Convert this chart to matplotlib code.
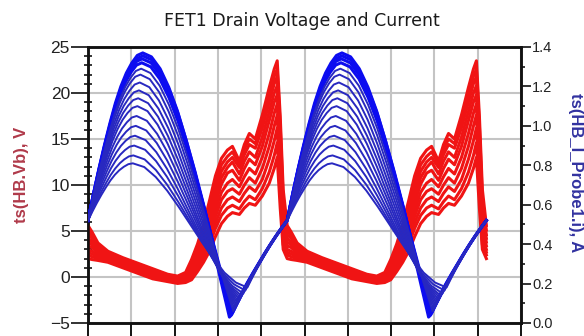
import numpy as np
import matplotlib
matplotlib.use("Agg")
import matplotlib.pyplot as plt
from matplotlib.ticker import MultipleLocator

plt.rcParams['font.family'] = ['Liberation Sans', 'DejaVu Sans']

# ---- time base -------------------------------------------------------------
period = 4.6            # one RF cycle, in x-axis units
n_cycles = 2

# ---- drain voltage traces (V), sampled over one cycle -----------------------
v_phase = [0, .02, .05, .10, .175, .25, .325, .40, .45, .49, .52, .55, .58, .61,
           .64, .67, .70, .725, .76, .785, .81, .84, .875, .91, .935, .95, .965,
           .98, 1.0]
v_trace_1 = [5.6, 4.9, 3.7, 2.8, 2.1, 1.5, 0.9, 0.3, 0.1, 0.5, 1.9, 3.6, 5.7, 8.3,
             11.0, 12.9, 13.8, 14.2, 12.6, 14.4, 15.6, 15.0, 17.6, 20.6, 22.6,
             23.5, 17.5, 9.5, 5.6]
v_trace_2 = [5.1, 4.5, 3.4, 2.6, 2.0, 1.4, 0.8, 0.2, 0.0, 0.3, 1.6, 3.2, 5.1, 7.6,
             10.2, 12.2, 13.1, 13.6, 12.3, 13.9, 15.0, 14.5, 16.9, 19.8, 21.8,
             22.6, 16.5, 8.5, 5.1]
v_trace_3 = [4.6, 4.2, 3.2, 2.5, 1.8, 1.2, 0.6, 0.0, -0.1, 0.1, 1.2, 2.7, 4.5, 6.9,
             9.5, 11.5, 12.5, 13.0, 11.9, 13.3, 14.4, 14.0, 16.2, 19.0, 21.0,
             21.8, 15.5, 7.5, 4.6]
v_trace_4 = [4.2, 3.8, 3.0, 2.4, 1.7, 1.1, 0.5, -0.1, -0.2, 0.0, 1.0, 2.3, 4.0,
             6.2, 8.7, 10.8, 11.9, 12.5, 11.2, 12.6, 13.6, 13.0, 15.2, 18.0, 20.0,
             20.8, 14.5, 6.8, 4.2]
v_trace_5 = [3.8, 3.5, 2.8, 2.2, 1.6, 1.0, 0.4, -0.2, -0.4, -0.2, 0.8, 2.0, 3.6,
             5.6, 8.0, 10.1, 11.3, 11.6, 10.5, 11.8, 12.8, 12.2, 14.2, 17.0,
             19.0, 19.8, 13.5, 6.0, 3.8]
v_trace_6 = [3.4, 3.2, 2.6, 2.1, 1.5, 0.9, 0.3, -0.2, -0.4, -0.3, 0.6, 1.7, 3.2,
             5.0, 7.3, 9.2, 10.2, 10.6, 9.8, 10.9, 11.8, 11.2, 13.0, 15.6, 17.8,
             18.8, 12.5, 5.2, 3.4]
v_trace_7 = [3.0, 2.8, 2.4, 2.0, 1.4, 0.8, 0.2, -0.3, -0.5, -0.4, 0.4, 1.5, 2.8,
             4.5, 6.6, 8.4, 9.3, 9.6, 9.0, 10.0, 10.8, 10.2, 11.8, 14.2, 16.4,
             17.6, 11.5, 4.6, 3.0]
v_trace_8 = [2.7, 2.5, 2.2, 1.9, 1.3, 0.7, 0.1, -0.4, -0.6, -0.5, 0.2, 1.2, 2.4,
             4.0, 5.9, 7.5, 8.4, 8.7, 8.2, 9.1, 9.8, 9.3, 10.6, 12.8, 14.8, 16.2,
             10.2, 4.0, 2.7]
v_trace_9 = [2.4, 2.2, 2.0, 1.8, 1.2, 0.6, 0.0, -0.4, -0.6, -0.5, 0.0, 1.0, 2.1,
             3.5, 5.3, 6.7, 7.5, 7.8, 7.4, 8.2, 8.8, 8.4, 9.6, 11.4, 13.2, 14.6,
             9.0, 3.5, 2.4]
v_trace_10 = [2.0, 1.9, 1.8, 1.6, 1.0, 0.4, -0.2, -0.5, -0.7, -0.6, -0.3, 0.6,
              1.6, 2.8, 4.4, 5.8, 6.6, 7.0, 6.8, 7.5, 8.0, 7.8, 8.8, 10.2, 11.8,
              13.0, 7.5, 3.0, 2.0]
v_traces = [v_trace_1, v_trace_2, v_trace_3, v_trace_4, v_trace_5,
            v_trace_6, v_trace_7, v_trace_8, v_trace_9, v_trace_10]

# ---- drain current traces (A) ------------------------------------------------
# each sweep step: start level, peak, peak phase, trough, trough phase
i_start = 0.52
i_peak = [1.37, 1.355, 1.34, 1.32, 1.29, 1.26, 1.22, 1.18, 1.14, 1.10, 1.05,
          1.00, 0.95, 0.90, 0.85, 0.81]
i_peak_phase = [.275, .275, .272, .27, .267, .263, .26, .256, .252, .248, .244,
                .24, .236, .232, .228, .225]
i_trough = [0.03, 0.035, 0.04, 0.05, 0.06, 0.07, 0.08, 0.09, 0.10, 0.11, 0.12,
            0.13, 0.14, 0.15, 0.165, 0.18]
i_trough_phase = [.71, .715, .72, .725, .73, .735, .74, .745, .75, .755, .76,
                  .765, .77, .78, .79, .80]
# how rounded each trace's bottom is (0 = sharp V, 1 = rounded U)
i_round = [0, 0, .05, .1, .2, .3, .4, .5, .6, .7, .75, .8, .85, .9, .95, 1.0]
# normalised edge profiles of one current cycle
edge_u = [0, .1, .2, .3, .4, .5, .6, .7, .8, .9, 1.0]
rise_edge = [0, .16, .31, .45, .58, .70, .80, .88, .94, .985, 1.0]
fall_edge_sharp = [1, .985, .94, .87, .78, .67, .55, .42, .28, .14, 0]
fall_edge_round = [1, .97, .89, .78, .65, .51, .37, .24, .12, .04, 0]
recover_edge = [0, .12, .235, .345, .45, .55, .65, .745, .835, .92, 1.0]

# ---- figure ------------------------------------------------------------------
fig = plt.figure(figsize=(5.84, 3.36), dpi=100)
ax = fig.add_axes([88 / 584, 13 / 336, 433 / 584, 276 / 336])
ax2 = ax.twinx()

red = '#f01414'
blue = '#0c0cf0'


def periodic(phase, values):
    t, y = [], []
    for c in range(n_cycles):
        for k, (p, v) in enumerate(zip(phase, values)):
            if c > 0 and k == 0:
                continue
            t.append((c + p) * period)
            y.append(v)
    return np.array(t), np.array(y)


for tr in v_traces:
    t, y = periodic(v_phase, tr)
    ax.plot(t, y, color=red, lw=2.2, solid_joinstyle='round', zorder=3)

u = np.array(edge_u)
n_i = len(i_peak)
for k in range(n_i):
    pk, pp = i_peak[k], i_peak_phase[k]
    tv, tp = i_trough[k], i_trough_phase[k]
    w = i_round[k]
    fall = (1 - w) * np.array(fall_edge_sharp) + w * np.array(fall_edge_round)
    ph = np.concatenate([u * pp, pp + u[1:] * (tp - pp), tp + u[1:] * (1 - tp)])
    val = np.concatenate([i_start + np.array(rise_edge) * (pk - i_start),
                          tv + fall[1:] * (pk - tv),
                          tv + np.array(recover_edge[1:]) * (i_start - tv)])
    t, y = periodic(list(ph), list(val))
    if k < 4:
        col, lw = blue, 2.2
    else:
        col, lw = '#2828c0', 1.4
    ax2.plot(t, y, color=col, lw=lw, zorder=3)

# ---- axes styling -------------------------------------------------------------
ax.set_xlim(0, 10)
ax.set_ylim(-5, 25)
ax2.set_ylim(0, 1.4)
ax.xaxis.set_major_locator(MultipleLocator(1))
ax.yaxis.set_major_locator(MultipleLocator(5))
ax.yaxis.set_minor_locator(MultipleLocator(1))
ax2.set_yticks(np.arange(0, 1.41, 0.2))
ax2.set_yticklabels([f"{v:.1f}" for v in np.arange(0, 1.41, 0.2)])
ax2.yaxis.set_minor_locator(MultipleLocator(0.1))

ax.grid(True, which='major', color='#c4c4c4', lw=1.5, zorder=0)
ax.set_axisbelow(True)

ax.tick_params(axis='x', which='major', direction='out', length=10, width=1.3,
               labelbottom=False)
ax.tick_params(axis='y', which='major', direction='out', length=12, width=1.3,
               pad=1, labelsize=12.5, colors='#222222')
ax.tick_params(axis='y', which='minor', direction='inout', length=6, width=1.1)
ax2.tick_params(axis='y', which='major', direction='out', length=7, width=1.3,
                pad=1, labelsize=10.5, colors='#222222')
ax2.tick_params(axis='y', which='minor', direction='out', length=3, width=1.1)

for a in (ax, ax2):
    for s in a.spines.values():
        s.set_linewidth(1.8)
        s.set_color('#111111')

fig.text(302 / 584, 1 - 21 / 336, "FET1 Drain Voltage and Current",
         ha='center', va='center', fontsize=12.5, color='#1a1a1a',
         family=['DejaVu Sans'])
fig.text(22 / 584, 1 - 175 / 336, "ts(HB.Vb), V", rotation=90,
         ha='center', va='center', fontsize=12, fontweight='bold',
         color='#b03a4a')
fig.text(576 / 584, 1 - 173 / 336, "ts(HB_I_Probe1.i), A", rotation=270,
         ha='center', va='center', fontsize=12, fontweight='bold',
         color='#3232a0')

fig.savefig("out.png", dpi=100)
